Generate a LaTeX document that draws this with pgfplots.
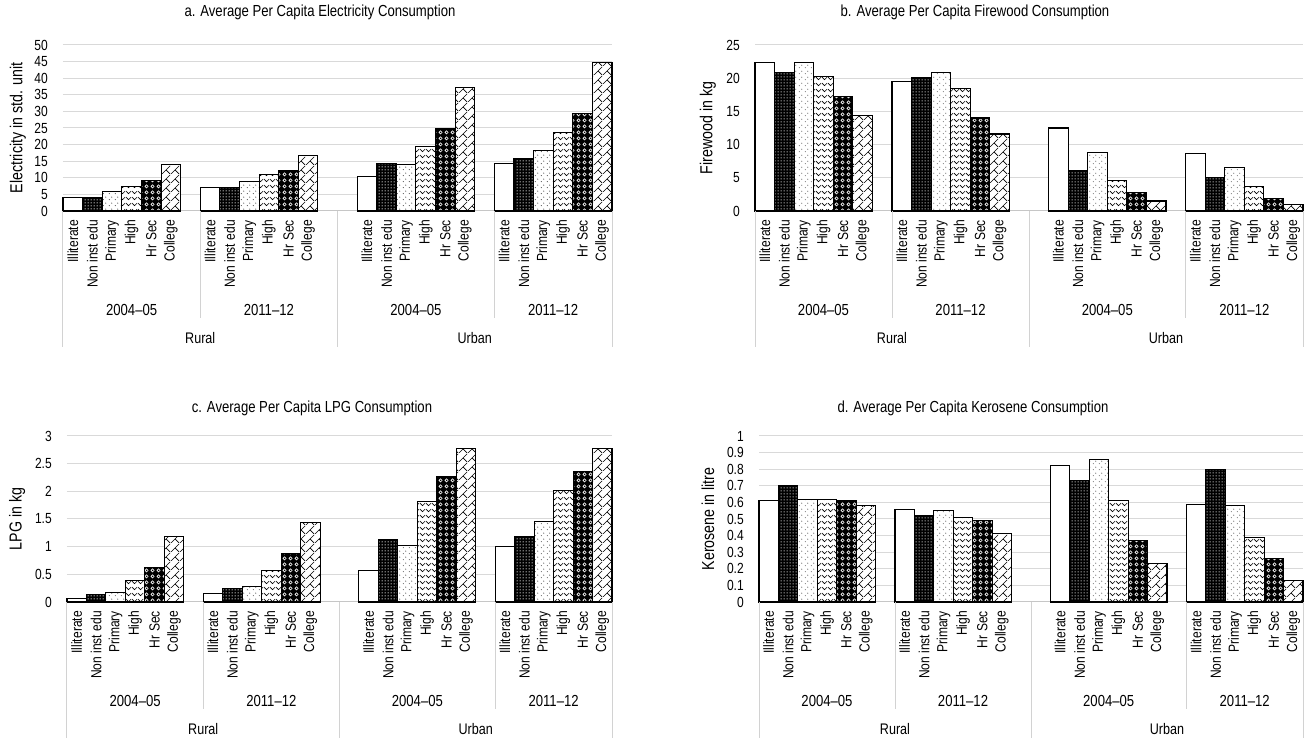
\documentclass[border=0pt]{standalone}
\usepackage{fontspec}
\setmainfont{Liberation Sans}
\newfontfamily\hfont{Liberation Sans}[FakeStretch=0.82]
\usepackage{pgfplots}
\pgfplotsset{compat=1.18}
\usepackage{pgfplotstable}
\usetikzlibrary{patterns}

% ---------- fill patterns for the six education levels ----------
\pgfdeclarepatternformonly{fdots}{\pgfpointorigin}{\pgfqpoint{2.25pt}{2.25pt}}{\pgfqpoint{2.25pt}{2.25pt}}{%
  \pgfpathcircle{\pgfqpoint{1.125pt}{1.125pt}}{0.6pt}\pgfusepath{fill}}
\pgfdeclarepatternformonly{sdots}{\pgfpointorigin}{\pgfqpoint{4.5pt}{4.5pt}}{\pgfqpoint{4.5pt}{4.5pt}}{%
  \pgfpathcircle{\pgfqpoint{1.1pt}{1.1pt}}{0.42pt}%
  \pgfpathcircle{\pgfqpoint{3.35pt}{3.35pt}}{0.42pt}\pgfusepath{fill}}
\pgfdeclarepatternformonly{zigzag}{\pgfpointorigin}{\pgfqpoint{4.5pt}{4.5pt}}{\pgfqpoint{4.5pt}{4.5pt}}{%
  \pgfsetlinewidth{0.5pt}%
  \pgfpathmoveto{\pgfqpoint{0pt}{3.4pt}}\pgfpathlineto{\pgfqpoint{2.25pt}{1.1pt}}%
  \pgfpathlineto{\pgfqpoint{4.5pt}{3.4pt}}\pgfusepath{stroke}}
\pgfdeclarepatternformonly{rings}{\pgfpointorigin}{\pgfqpoint{4.5pt}{4.5pt}}{\pgfqpoint{4.5pt}{4.5pt}}{%
  \pgfsetlinewidth{0.55pt}%
  \pgfpathcircle{\pgfqpoint{2.25pt}{2.25pt}}{1.35pt}\pgfusepath{stroke}}
\pgfdeclarepatternformonly{dbrick}{\pgfpointorigin}{\pgfqpoint{6.75pt}{6.75pt}}{\pgfqpoint{6.75pt}{6.75pt}}{%
  \pgfsetlinewidth{0.5pt}%
  \pgfpathmoveto{\pgfqpoint{0pt}{0pt}}\pgfpathlineto{\pgfqpoint{6.75pt}{6.75pt}}%
  \pgfpathmoveto{\pgfqpoint{3.375pt}{3.375pt}}\pgfpathlineto{\pgfqpoint{6.75pt}{0pt}}%
  \pgfusepath{stroke}}

% ---------- data: one row per sector/year group, base = first slot ----------
\pgfplotstableread{
base ill  non  pri  hig  hrs  col
0    4.0  4.0  5.8  7.4  9.2  14.0
7    7.0  7.0  8.8  11.0 12.2 16.6
15   10.3 14.4 13.9 19.5 24.7 37.1
22   14.4 15.9 18.1 23.6 29.5 44.6
}\elec
\pgfplotstableread{
base ill  non  pri  hig  hrs  col
0    22.4 20.8 22.3 20.2 17.3 14.4
7    19.5 20.1 20.8 18.4 14.0 11.6
15   12.5 6.1  8.8  4.6  2.8  1.5
22   8.6  5.0  6.6  3.7  1.9  1.0
}\fire
\pgfplotstableread{
base ill  non  pri  hig  hrs  col
0    0.06 0.13 0.17 0.39 0.62 1.19
7    0.15 0.24 0.28 0.57 0.88 1.43
15   0.57 1.13 1.02 1.81 2.27 2.78
22   1.01 1.19 1.45 2.02 2.36 2.78
}\lpg
\pgfplotstableread{
base ill  non  pri  hig  hrs  col
0    0.61 0.70 0.62 0.62 0.61 0.58
7    0.56 0.52 0.55 0.51 0.49 0.41
15   0.82 0.73 0.86 0.61 0.37 0.23
22   0.59 0.80 0.58 0.39 0.26 0.13
}\kero

\tikzset{
  bx/.style={ybar, bar width=1, bar shift=0pt, draw=black, line width=0.8pt},
  sepline/.style={draw=gray!35, line width=0.75pt},
}

\pgfplotsset{
  edu/.style={
    scale only axis, clip=false,
    xmin=-0.5, xmax=27.5, ymin=0,
    axis lines*=left,
    x axis line style={draw=gray!45, line width=0.75pt},
    y axis line style={draw=none},
    major tick length=0pt,
    ymajorgrids, grid style={draw=gray!30, line width=0.75pt},
    xtick={0,1,2,3,4,5,7,8,9,10,11,12,15,16,17,18,19,20,22,23,24,25,26,27},
    xticklabels={Illiterate,Non inst edu,Primary,High,Hr Sec,College,
                 Illiterate,Non inst edu,Primary,High,Hr Sec,College,
                 Illiterate,Non inst edu,Primary,High,Hr Sec,College,
                 Illiterate,Non inst edu,Primary,High,Hr Sec,College},
    xticklabel style={rotate=90, anchor=east, font=\fontsize{11}{13}\hfont,
                      inner xsep=6.75pt, inner ysep=0pt},
    /pgf/number format/assume math mode=true,
    scaled y ticks=false,
    yticklabel style={font=\fontsize{11}{13}\hfont, anchor=east, inner xsep=0pt,
                      xshift=-11.25pt, /pgf/number format/fixed,
                      /pgf/number format/precision=1},
    ylabel style={font=\fontsize{13}{15}\hfont, anchor=center},
  },
}

\newcommand{\edubars}[1]{%
  \addplot[bx, fill=white] table[x=base, y=ill]{#1};
  \addplot[bx, fill=black, postaction={pattern=fdots, pattern color=white}]
    table[x expr=\thisrow{base}+1, y=non]{#1};
  \addplot[bx, fill=white, postaction={pattern=sdots}]
    table[x expr=\thisrow{base}+2, y=pri]{#1};
  \addplot[bx, fill=white, postaction={pattern=zigzag}]
    table[x expr=\thisrow{base}+3, y=hig]{#1};
  \addplot[bx, fill=black, postaction={pattern=rings, pattern color=white}]
    table[x expr=\thisrow{base}+4, y=hrs]{#1};
  \addplot[bx, fill=white, postaction={pattern=dbrick}]
    table[x expr=\thisrow{base}+5, y=col]{#1};
}

% group separators and the two lower levels of the category axis
\newcommand{\edugroups}{%
  \draw[sepline] (axis cs:-0.5,0) -- ++(0pt,-102pt);
  \draw[sepline] (axis cs:6.5,0)  -- ++(0pt,-80.25pt);
  \draw[sepline] (axis cs:13.5,0) -- ++(0pt,-102pt);
  \draw[sepline] (axis cs:21.5,0) -- ++(0pt,-80.25pt);
  \draw[sepline] (axis cs:27.5,0) -- ++(0pt,-102pt);
  \node[font=\fontsize{12}{14}\hfont] at (axis cs:3,0)    [yshift=-74.25pt] {2004–05};
  \node[font=\fontsize{12}{14}\hfont] at (axis cs:10,0)   [yshift=-74.25pt] {2011–12};
  \node[font=\fontsize{12}{14}\hfont] at (axis cs:17.5,0) [yshift=-74.25pt] {2004–05};
  \node[font=\fontsize{12}{14}\hfont] at (axis cs:24.5,0) [yshift=-74.25pt] {2011–12};
  \node[font=\fontsize{11.5}{13}\hfont] at (axis cs:6.5,0)  [yshift=-95.25pt] {Rural};
  \node[font=\fontsize{11.5}{13}\hfont] at (axis cs:20.5,0) [yshift=-95.25pt] {Urban};
}

\begin{document}
\begin{tikzpicture}
\useasboundingbox (0,0) rectangle (978.75pt,555.75pt);

% a. Electricity
\begin{axis}[edu, at={(47.25pt,397.5pt)}, anchor=south west,
  width=411.75pt, height=124.5pt, ymax=50, ytick={0,5,10,15,20,25,30,35,40,45,50},
  ylabel={Electricity in std. unit},
  ylabel style={at={(axis description cs:-0.082,0.5)}}]
  \edubars{\elec}
  \edugroups
\end{axis}

% b. Firewood
\begin{axis}[edu, at={(566.25pt,397.5pt)}, anchor=south west,
  width=411pt, height=124.5pt, ymax=25, ytick={0,5,10,15,20,25},
  ylabel={Firewood in kg},
  ylabel style={at={(axis description cs:-0.0858,0.5)}}]
  \edubars{\fire}
  \edugroups
\end{axis}

% c. LPG
\begin{axis}[edu, at={(50.25pt,104.25pt)}, anchor=south west,
  width=408.75pt, height=124.5pt, ymax=3, ytick={0,0.5,1,1.5,2,2.5,3},
  ylabel={LPG in kg},
  ylabel style={at={(axis description cs:-0.0917,0.5)}}]
  \edubars{\lpg}
  \edugroups
\end{axis}

% d. Kerosene
\begin{axis}[edu, at={(569.25pt,104.25pt)}, anchor=south west,
  width=408pt, height=124.5pt, ymax=1,
  ytick={0,0.1,0.2,0.3,0.4,0.5,0.6,0.7,0.8,0.9,1},
  ylabel={Kerosene in litre},
  ylabel style={at={(axis description cs:-0.0938,0.5)}}]
  \edubars{\kero}
  \edugroups
\end{axis}

% panel titles
\node[font=\fontsize{12}{14}\hfont] at (240pt,546.75pt)    {a. Average Per Capita Electricity Consumption};
\node[font=\fontsize{12}{14}\hfont] at (731.25pt,546.75pt) {b. Average Per Capita Firewood Consumption};
\node[font=\fontsize{12}{14}\hfont] at (234pt,249.75pt)    {c. Average Per Capita LPG Consumption};
\node[font=\fontsize{12}{14}\hfont] at (729.75pt,249.75pt) {d. Average Per Capita Kerosene Consumption};
\end{tikzpicture}
\end{document}
